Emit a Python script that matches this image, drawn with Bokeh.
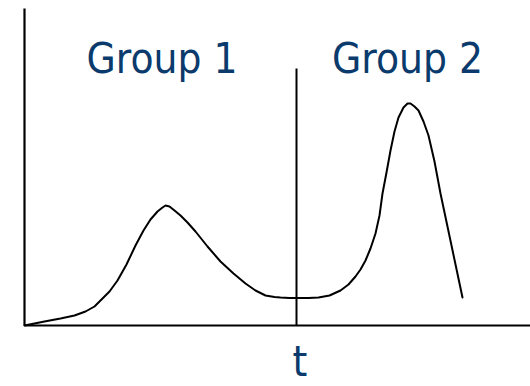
from bokeh.plotting import figure
from bokeh.models import Range1d
from bokeh.core.properties import value
from bokeh.embed import file_html
from bokeh.resources import INLINE

# Bimodal distribution of a score t, split at a threshold into two groups
t_vals = [0.00, 0.40, 0.72, 1.00, 1.22, 1.40, 1.52, 1.70, 1.86, 2.04, 2.22, 2.38,
          2.52, 2.66, 2.76, 2.82, 2.90, 3.00, 3.12, 3.26, 3.42, 3.66, 3.92, 4.18,
          4.42, 4.62, 4.82, 5.00, 5.12, 5.30, 5.48, 5.68, 5.88, 6.10, 6.32, 6.48,
          6.62, 6.72, 6.82, 6.92, 7.02, 7.10, 7.16, 7.24, 7.32, 7.40, 7.48, 7.58,
          7.66, 7.72, 7.80, 7.88, 7.98, 8.08, 8.20, 8.32, 8.54, 8.76]
density = [0.00, 0.04, 0.07, 0.10, 0.14, 0.19, 0.25, 0.34, 0.45, 0.61, 0.80, 0.95,
           1.06, 1.14, 1.18, 1.20, 1.19, 1.15, 1.10, 1.03, 0.94, 0.79, 0.64, 0.52,
           0.42, 0.35, 0.30, 0.285, 0.28, 0.275, 0.275, 0.275, 0.28, 0.30, 0.35, 0.41,
           0.49, 0.56, 0.65, 0.77, 0.92, 1.10, 1.32, 1.53, 1.75, 1.94, 2.08, 2.18,
           2.22, 2.22, 2.19, 2.15, 2.04, 1.90, 1.64, 1.32, 0.80, 0.28]

threshold = 5.44
group_labels = ["Group 1", "Group 2"]
group_label_x = [2.75, 7.66]
axis_label = "t"

x_max = 10.12
y_max = 3.17
threshold_top = 2.57

label_color = "#0B3A6C"
font = value("'DejaVu Sans Condensed', 'DejaVu Sans', sans-serif")

p = figure(width=530, height=386, output_backend="svg", toolbar_location=None,
           x_range=Range1d(-0.48, 10.12), y_range=Range1d(-0.61, 3.25),
           min_border=0, border_fill_color="white", background_fill_color="white")
p.axis.visible = False
p.grid.visible = False
p.outline_line_color = None

# hand-drawn style axes
p.line([0, 0], [0, y_max], line_color="black", line_width=2.2)
p.line([0, x_max], [0, 0], line_color="black", line_width=2.2)

# threshold marker
p.line([threshold, threshold], [0, threshold_top], line_color="black", line_width=2)

# distribution curve
p.line(t_vals, density, line_color="black", line_width=2, line_join="round", line_cap="round")

# group labels
p.text(x=group_label_x, y=[2.67, 2.67], text=group_labels, text_color=label_color,
       text_font=font, text_font_size="42px", text_align="center",
       text_baseline="alphabetic")
p.text(x=[5.51], y=[-0.355], text=[axis_label], text_color=label_color,
       text_font=font, text_font_size="42px", text_align="center",
       text_baseline="alphabetic")

open("out.html", "w").write(file_html(p, INLINE))
